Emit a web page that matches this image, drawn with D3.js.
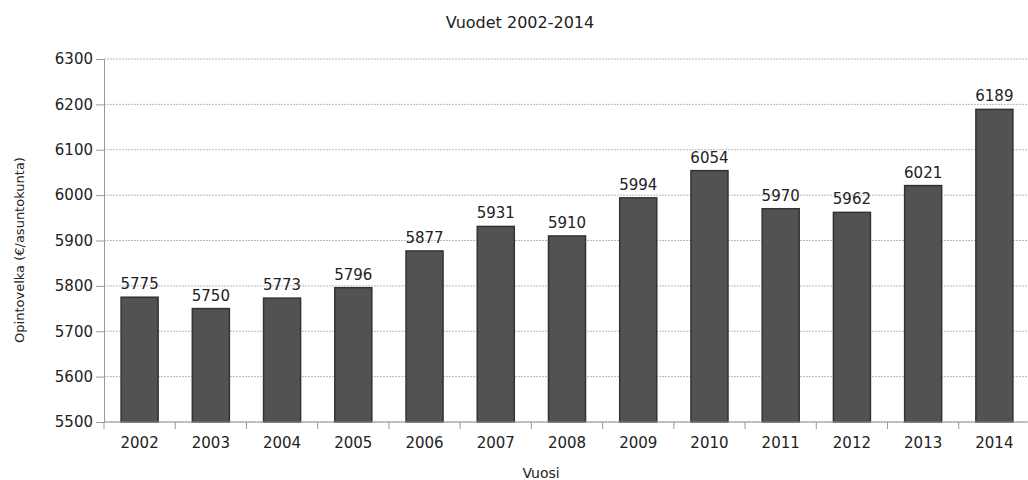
<!DOCTYPE html>
<html>
<head>
<meta charset="utf-8">
<script src="https://cdn.jsdelivr.net/npm/d3@7"></script>
<style>
  body { margin: 0; background: #fff; }
  text { font-family: "DejaVu Sans", sans-serif; fill: #222; }
  .grid line { stroke: #b8b8b8; stroke-dasharray: 2,1; }
</style>
</head>
<body>
<div id="chart"></div>
<script>
// data
var years = ["2002", "2003", "2004", "2005", "2006", "2007", "2008", "2009", "2010", "2011", "2012", "2013", "2014"];
var values = [5775, 5750, 5773, 5796, 5877, 5931, 5910, 5994, 6054, 5970, 5962, 6021, 6189];
var yTicks = [5500, 5600, 5700, 5800, 5900, 6000, 6100, 6200, 6300];

var svgWidth = 1028;
var svgHeight = 480;

var margin = { top: 59, right: -2, bottom: 58, left: 104 };
var width = svgWidth - margin.left - margin.right;
var height = svgHeight - margin.top - margin.bottom;

var svg = d3.select("#chart")
  .append("svg")
  .attr("width", svgWidth)
  .attr("height", svgHeight);

var chartGroup = svg.append("g")
  .attr("transform", `translate(${margin.left}, ${margin.top})`);

var xScale = d3.scaleBand()
  .domain(years)
  .range([0, width])
  .paddingInner(0.48)
  .paddingOuter(0.24);

var yScale = d3.scaleLinear()
  .domain([5500, 6300])
  .range([height, 0]);

// gridlines
chartGroup.append("g")
  .attr("class", "grid")
  .selectAll("line")
  .data(yTicks)
  .enter()
  .append("line")
  .attr("x1", 0)
  .attr("x2", width)
  .attr("y1", d => yScale(d))
  .attr("y2", d => yScale(d));

// bars
chartGroup.selectAll("rect")
  .data(values)
  .enter()
  .append("rect")
  .attr("x", (d, i) => xScale(years[i]))
  .attr("y", d => yScale(d))
  .attr("width", xScale.bandwidth())
  .attr("height", d => height - yScale(d))
  .attr("fill", "#525252")
  .attr("stroke", "#333")
  .attr("stroke-width", 1.5);

// value labels
chartGroup.selectAll(".valLabel")
  .data(values)
  .enter()
  .append("text")
  .attr("class", "valLabel")
  .attr("x", (d, i) => xScale(years[i]) + xScale.bandwidth() / 2)
  .attr("y", d => yScale(d) - 8)
  .attr("text-anchor", "middle")
  .style("font-size", "15px")
  .text(d => d);

// y axis
var leftAxis = d3.axisLeft(yScale).tickValues(yTicks).tickFormat(d3.format("d")).tickSize(8).tickPadding(3);
var yAxisG = chartGroup.append("g").call(leftAxis);
yAxisG.select(".domain").attr("stroke", "#999");
yAxisG.selectAll(".tick line").attr("stroke", "#999");
yAxisG.selectAll("text").style("font-size", "15px").attr("fill", "#222");

// x axis: ticks sit on category boundaries
var xAxisG = chartGroup.append("g")
  .attr("transform", `translate(0, ${height})`);
xAxisG.append("line")
  .attr("x1", 0).attr("x2", width)
  .attr("stroke", "#999");
var step = xScale.step();
xAxisG.selectAll(".bound")
  .data(years)
  .enter()
  .append("line")
  .attr("x1", d => xScale(d) - xScale.paddingOuter() * step)
  .attr("x2", d => xScale(d) - xScale.paddingOuter() * step)
  .attr("y1", 0)
  .attr("y2", 7)
  .attr("stroke", "#999");
xAxisG.selectAll(".xLabel")
  .data(years)
  .enter()
  .append("text")
  .attr("x", d => xScale(d) + xScale.bandwidth() / 2)
  .attr("y", 26)
  .attr("text-anchor", "middle")
  .style("font-size", "15px")
  .text(d => d);

// titles
svg.append("text")
  .attr("x", 520)
  .attr("y", 28)
  .attr("text-anchor", "middle")
  .style("font-size", "16px")
  .text("Vuodet 2002-2014");

svg.append("text")
  .attr("x", 541)
  .attr("y", 478)
  .attr("text-anchor", "middle")
  .style("font-size", "14px")
  .text("Vuosi");

svg.append("text")
  .attr("transform", "rotate(-90)")
  .attr("x", -250)
  .attr("y", 24)
  .attr("text-anchor", "middle")
  .style("font-size", "13px")
  .text("Opintovelka (€/asuntokunta)");
</script>
</body>
</html>
